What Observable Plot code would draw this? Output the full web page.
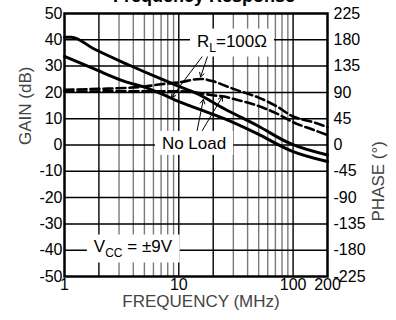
<!DOCTYPE html>
<html><head><meta charset="utf-8">
<script src="https://cdn.jsdelivr.net/npm/d3@7"></script>
<script src="https://cdn.jsdelivr.net/npm/@observablehq/plot@0.6"></script>
<style>body{margin:0;background:#fff;overflow:hidden}</style>
</head><body><div id="chart"></div>
<script>
// Gain curves (dB)
const freqGainNoLoad = [1, 1.15, 1.8, 3.5, 7, 10, 14, 25, 48.5, 95, 200];
const gainNoLoad     = [41, 41, 36.6, 30.8, 25.1, 22.3, 19.8, 13.8, 7.4, 0.5, -3.8];
const freqGainLoad   = [1, 1.8, 3.5, 5, 7, 10, 14, 25, 48.5, 95, 200];
const gainLoad       = [33.7, 29.0, 23.9, 22.0, 19.5, 16.5, 14.1, 10.0, 4.3, -2.1, -6.3];
// Phase curves (degrees)
const freqPhaseLoad  = [1, 2, 5, 7, 10, 15.5, 20, 25, 30, 50, 70, 100, 150, 200];
const phaseLoad      = [94.5, 96, 100, 104, 107, 113, 109, 102, 96, 81, 67.5, 48.8, 39, 30.6];
const freqPhaseNoLoad= [1, 5, 10, 15, 20, 25, 30, 50, 70, 100, 150, 200];
const phaseNoLoad    = [91, 92, 92, 89, 85, 83, 79, 66.6, 55, 39, 26, 17];
// Axes
const gainTicks  = [-50, -40, -30, -20, -10, 0, 10, 20, 30, 40, 50];
const phaseTicks = [-225, -180, -135, -90, -45, 0, 45, 90, 135, 180, 225];
const freqTicks  = [1, 10, 100, 200];
const gridMajor  = [2, 10, 20, 100];
const gridMinor  = [3, 4, 5, 6, 7, 8, 9, 30, 40, 50, 60, 70, 80, 90];
const gainGrid   = [-40, -30, -20, -10, 0, 10, 20, 30, 40];
// Annotations
const labelText = ["RL=100Ω", "No Load", "VCC = ±9V"];
const labelFreq = [29.2, 13.6, 3.97];
const labelGain = [39.5, 0.6, -38.8];
const arrowFrom = [[16.8, 34.8], [18.2, 34.8], [14.3, 4.4], [15.5, 4.4]];
const arrowTo   = [[8.63, 18.1], [15.5, 25.9], [16.4, 17.3], [24.1, 18.4]];

const PHASE_PER_DB = 4.5;
const toGain = p => p / PHASE_PER_DB;

const zip = (fs, vs, conv = v => v) => fs.map((f, i) => ({f, g: conv(vs[i])}));
const lineNoLoad = zip(freqGainNoLoad, gainNoLoad);
const lineLoad = zip(freqGainLoad, gainLoad);
const phLoad = zip(freqPhaseLoad, phaseLoad, toGain);
const phNoLoad = zip(freqPhaseNoLoad, phaseNoLoad, toGain);
const labels = labelText.map((t, i) => ({t, f: labelFreq[i], g: labelGain[i]}));
const arrows = arrowFrom.map((a, i) => ({x1: a[0], y1: a[1], x2: arrowTo[i][0], y2: arrowTo[i][1]}));
const font = "Liberation Sans, Arial, sans-serif";

const plot = Plot.plot({
  width: 396, height: 320,
  marginLeft: 64, marginRight: 69, marginTop: 13, marginBottom: 44,
  style: {fontFamily: font, fontSize: "16px", background: "#fff", color: "#000"},
  x: {type: "log", domain: [1, 200]},
  y: {domain: [-50, 50]},
  marks: [
    Plot.ruleX(gridMinor, {stroke: "#7a7a7a", strokeWidth: 1.4}),
    Plot.ruleX(gridMajor, {stroke: "#000", strokeWidth: 1.4}),
    Plot.ruleY(gainGrid, {stroke: "#000", strokeWidth: 1.5}),
    Plot.line(lineNoLoad, {x: "f", y: "g", stroke: "#000", strokeWidth: 3, curve: "monotone-x"}),
    Plot.line(lineLoad, {x: "f", y: "g", stroke: "#000", strokeWidth: 3, curve: "monotone-x"}),
    Plot.line(phLoad, {x: "f", y: "g", stroke: "#000", strokeWidth: 2.6, strokeDasharray: "9,4", curve: "monotone-x"}),
    Plot.line(phNoLoad, {x: "f", y: "g", stroke: "#000", strokeWidth: 2.6, strokeDasharray: "9,4", curve: "monotone-x"}),
    Plot.frame({stroke: "#000", strokeWidth: 2.5}),
    Plot.axisX({ticks: freqTicks, tickFormat: d => String(d), tickSize: 0, tickPadding: 2, fontSize: 16, label: null}),
    Plot.axisY({ticks: gainTicks, tickFormat: d => String(d), anchor: "left", tickSize: 0, tickPadding: 2, fontSize: 16, label: null}),
    Plot.axisY({ticks: phaseTicks.map(toGain), tickFormat: d => String(Math.round(d * PHASE_PER_DB)), anchor: "right", tickSize: 0, tickPadding: 6, fontSize: 16, label: null}),
    Plot.text(["GAIN (dB)"], {frameAnchor: "left", dx: -39, rotate: -90, fontSize: 17, fill: "#444"}),
    Plot.text(["PHASE (°)"], {frameAnchor: "right", dx: 51, dy: -4, rotate: -90, fontSize: 17, fill: "#444"}),
    Plot.text(["FREQUENCY (MHz)"], {frameAnchor: "bottom", dy: 30, dx: 5, fontSize: 17, fill: "#444"}),
    Plot.text(["Frequency Response"], {frameAnchor: "top", dx: 8, dy: -11.5, lineAnchor: "bottom", fontSize: 18, fontWeight: "bold", fill: "#000"}),
    Plot.arrow(arrows, {x1: "x1", y1: "y1", x2: "x2", y2: "y2", stroke: "#000", strokeWidth: 1, headLength: 7}),
    Plot.text(labels, {x: "f", y: "g", text: "t", fontSize: 17, fill: "#000"})
  ]
});
document.getElementById("chart").append(plot);

// subscripts and white label boxes
d3.select(plot).selectAll("text").each(function () {
  const t = this.textContent;
  let html = null;
  if (t === "RL=100Ω") html = 'R<tspan dy="5" font-size="12">L</tspan><tspan dy="-5">=100Ω</tspan>';
  else if (t === "VCC = ±9V") html = 'V<tspan dy="5" font-size="12">CC</tspan><tspan dy="-5"> = ±9V</tspan>';
  else if (t !== "No Load") return;
  if (html) d3.select(this).html(html);
  const b = this.getBBox();
  const r = document.createElementNS("http://www.w3.org/2000/svg", "rect");
  r.setAttribute("x", b.x - 7);
  r.setAttribute("y", b.y - 3);
  r.setAttribute("width", b.width + 14);
  r.setAttribute("height", b.height + 5);
  r.setAttribute("fill", "#fff");
  const tr = this.getAttribute("transform");
  if (tr) r.setAttribute("transform", tr);
  this.parentNode.insertBefore(r, this);
});
</script>
</body></html>
